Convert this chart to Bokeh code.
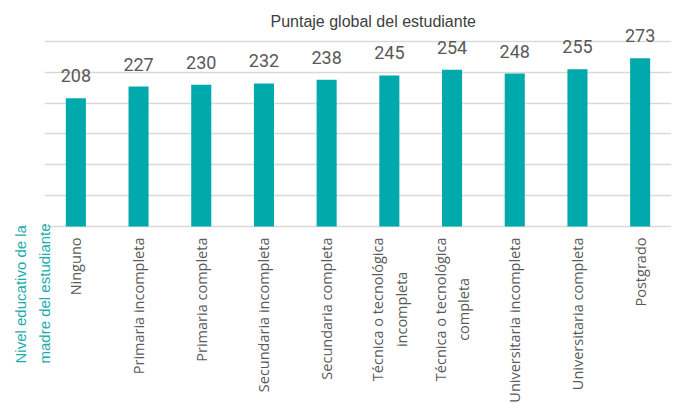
import math
from bokeh.plotting import figure
from bokeh.models import ColumnDataSource, FactorRange, Range1d, FixedTicker, LabelSet, Title
from bokeh.core.properties import value
from bokeh.embed import file_html
from bokeh.resources import INLINE

categories = [
    "Ninguno",
    "Primaria incompleta",
    "Primaria completa",
    "Secundaria incompleta",
    "Secundaria completa",
    "Técnica o tecnológica\nincompleta",
    "Técnica o tecnológica\ncompleta",
    "Universitaria incompleta",
    "Universitaria completa",
    "Postgrado",
]
scores = [208, 227, 230, 232, 238, 245, 254, 248, 255, 273]
score_labels = [str(v) for v in scores]
y_ticks = [0, 50, 100, 150, 200, 250, 300]

TEAL = "#00A9AB"
GRID = "#D9D9D9"

src = ColumnDataSource(data=dict(cat=categories, score=scores, lab=score_labels))

# y range: scores axis 0..300 (gridlines), extended below for category labels
# and above for value labels
p = figure(
    width=676, height=404,
    x_range=FactorRange(factors=categories, range_padding=0),
    y_range=Range1d(-288.6, 324.3),
    output_backend="svg", toolbar_location=None,
    min_border_left=44, min_border_right=5, min_border_top=26, min_border_bottom=0,
)
p.title.text = "Puntaje global del estudiante"
p.title.align = "left"
p.title.offset = 226
p.title.standoff = -6
p.title.text_font = "Liberation Sans"
p.title.text_font_size = "16px"
p.title.text_font_style = "normal"
p.title.text_color = "#404040"
p.title.text_line_height = 1.0

p.vbar(x="cat", top="score", width=0.32, source=src, fill_color=TEAL, line_color=None)

labels = LabelSet(x="cat", y="score", text="lab", source=src, y_offset=16,
                  text_align="center", text_baseline="alphabetic",
                  text_font=value("Roboto"), text_font_size=value("18px"),
                  text_color=value("#595959"))
p.add_layout(labels)

# category labels below the baseline
p.text(x="cat", y=0, text="cat", source=src, angle=math.pi / 2,
       anchor="center_right", text_align="center", y_offset=11,
       text_font=value("Open Sans"), text_font_size=value("14.5px"),
       text_color="#595959", text_line_height=1.25)

p.outline_line_color = None
p.background_fill_color = "white"
p.yaxis.visible = False
p.xaxis.visible = False
p.ygrid.ticker = FixedTicker(ticks=y_ticks)
p.ygrid.grid_line_color = GRID
p.ygrid.grid_line_width = 1.5
p.xgrid.grid_line_color = None

ytitle = Title(text="Nivel educativo de la\nmadre del estudiante", align="left",
               offset=41, standoff=-18, text_font="Liberation Sans",
               text_font_size="15px", text_font_style="normal",
               text_color="#1AADAD", text_line_height=1.45)
p.add_layout(ytitle, "left")

open("out.html", "w").write(file_html(p, INLINE))
